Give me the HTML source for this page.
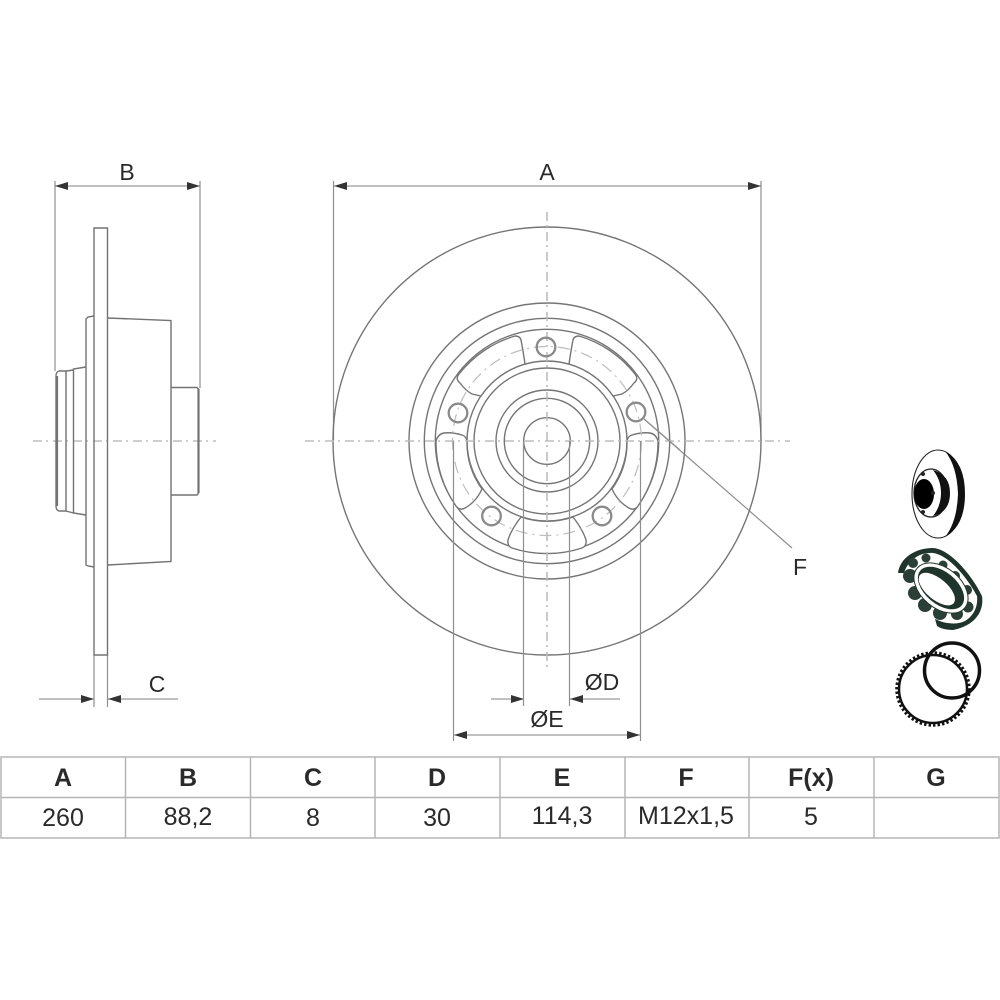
<!DOCTYPE html>
<html><head><meta charset="utf-8"><style>
html,body{margin:0;padding:0;background:#fff}
svg{display:block}
text{font-family:"Liberation Sans",sans-serif;fill:#2a2a2a;text-anchor:middle}
.l{font-size:23px}
.h{font-size:25px;font-weight:bold}
.v{font-size:25px}
.art{filter:blur(.35px)}
</style></head><body>
<svg width="1000" height="1000" viewBox="0 0 1000 1000" xmlns="http://www.w3.org/2000/svg">
<rect width="1000" height="1000" fill="#fff"/>
<defs>
<marker id="ar" viewBox="0 0 13 8" refX="13" refY="4" markerWidth="13" markerHeight="8" markerUnits="userSpaceOnUse" orient="auto-start-reverse"><path d="M0 0L13 4L0 8Z" fill="#333"/></marker>
</defs>
<g class="art">
<!-- dim extension lines -->
<g fill="none" stroke="#8f8f8f" stroke-width="1.200">
<path d="M333.500 181V441M761 181V441"/>
<path d="M55 181V371M200 181V388"/>
<path d="M94 655V707M107.500 655V707"/>
<path d="M644 419L792 548"/>
</g>
<!-- dim arrows -->
<g fill="none" stroke="#808080" stroke-width="1.100">
<path d="M334 186H761" marker-start="url(#ar)" marker-end="url(#ar)"/>
<path d="M55 186H200" marker-start="url(#ar)" marker-end="url(#ar)"/>
<path d="M39 699H94" marker-end="url(#ar)"/>
<path d="M178 699H108" marker-end="url(#ar)"/>
<path d="M491 699H524" marker-end="url(#ar)"/>
<path d="M620 699H570" marker-end="url(#ar)"/>
<path d="M454 735H640" marker-start="url(#ar)" marker-end="url(#ar)"/>
</g>
<!-- front view -->
<g fill="none" stroke="#757575" stroke-width="1.400">
<circle cx="547" cy="441" r="214"/>
<circle cx="547" cy="441" r="138"/>
<circle cx="547" cy="441" r="122.700"/>
<circle cx="547" cy="441" r="111.700"/>
<circle cx="547" cy="441" r="80"/>
<circle cx="547" cy="441" r="73"/>
<circle cx="547" cy="441" r="51"/>
<circle cx="547" cy="441" r="42.700"/>
<circle cx="547" cy="441" r="23.300"/>
<!-- pockets -->
<path d="M573 340Q574 336 579 336A111 111 0 0 1 635 374Q639 379 634 383Q628 391 622 394L613 396A80 80 0 0 0 569 364Q571 350 573 340Z" fill="#fff"/>
<path d="M573 340Q574 336 579 336A111 111 0 0 1 635 374Q639 379 634 383Q628 391 622 394L613 396A80 80 0 0 0 569 364Q571 350 573 340Z" fill="#fff" transform="matrix(-1 0 0 1 1094 0)"/>
<path d="M627 441Q628 436 632 435Q642 432 650 433Q656 434 658 441A111 111 0 0 1 638 506Q634 511 629 508Q618 502 612 489A80 80 0 0 0 627 441Z" fill="#fff"/>
<path d="M627 441Q628 436 632 435Q642 432 650 433Q656 434 658 441A111 111 0 0 1 638 506Q634 511 629 508Q618 502 612 489A80 80 0 0 0 627 441Z" fill="#fff" transform="matrix(-1 0 0 1 1094 0)"/>
<path d="M521 517A80 80 0 0 0 573 517Q583 530 586 540Q587 546 582 548A112 112 0 0 1 512 548Q507 546 508 540Q511 530 521 517Z" fill="#fff"/>
</g>
<!-- centre lines -->
<g fill="none" stroke="#bdbdbd" stroke-width="1.200" stroke-dasharray="12 5 2 5">
<circle cx="547" cy="441" r="94.500"/>
</g>
<g fill="none" stroke="#bdbdbd" stroke-width="1.600" stroke-dasharray="9 4 2 5">
<path d="M305 441H790"/><path d="M33 441H216"/><path d="M547 212V668"/>
</g>
<g fill="none" stroke="#8f8f8f" stroke-width="1.200">
<path d="M453.500 441V741M640.500 441V741"/>
<path d="M523.500 441V706M569.500 441V706"/>
<path d="M644 419L680 450"/>
</g>
<!-- bolt holes -->
<g fill="none" stroke="#8a8a8a" stroke-width="2.300">
<circle cx="546" cy="347" r="9.300"/>
<circle cx="636" cy="412" r="9.300"/>
<circle cx="458" cy="413" r="9.300"/>
<circle cx="491.500" cy="516" r="9.300"/>
<circle cx="602" cy="516" r="9.300"/>
</g>
<!-- side view -->
<g fill="none" stroke="#737373" stroke-width="1.400">
<path d="M94 228H107.500V655H94Z"/>
<path d="M107.500 318L171 320.500V561.500L107.500 565"/>
<path d="M94 316L88 317L86 319V565L88 566L94 567"/>
<path d="M86 367L73.500 369V513L86 515"/>
<path d="M73.500 370L66 371V511L73.500 513"/>
<path d="M66 371H59Q56 372 56 376V506Q56 510 59 511H66"/>
<path d="M171 387.500H197L198.500 389V493L197 495H171"/>
<path d="M57 376V506M198.500 389V493" stroke-width="2.200"/>
</g>
</g>
<!-- labels -->
<text class="l" x="127" y="180">B</text>
<text class="l" x="547" y="180">A</text>
<text class="l" x="157" y="692">C</text>
<text class="l" x="800" y="575">F</text>
<text class="l" x="602" y="690">ØD</text>
<text class="l" x="547" y="727">ØE</text>
<!-- table -->
<g fill="none" stroke="#b5b5b5" stroke-width="1.500">
<rect x="1" y="757" width="998" height="81"/>
<path d="M1 797.500H999"/>
<path d="M125.500 757V838M250.500 757V838M375 757V838M500 757V838M625 757V838M749 757V838M874 757V838"/>
</g>
<text class="h" x="63" y="786">A</text>
<text class="h" x="188" y="786">B</text>
<text class="h" x="313" y="786">C</text>
<text class="h" x="437" y="786">D</text>
<text class="h" x="562" y="786">E</text>
<text class="h" x="686" y="786">F</text>
<text class="h" x="811" y="786">F(x)</text>
<text class="h" x="936" y="786">G</text>
<text class="v" x="63" y="826">260</text>
<text class="v" x="188" y="825">88,2</text>
<text class="v" x="313" y="826">8</text>
<text class="v" x="437" y="826">30</text>
<text class="v" x="562" y="824">114,3</text>
<text class="v" x="686" y="824">M12x1,5</text>
<text class="v" x="811" y="825">5</text>
<g class="art">
<!-- icon: disc -->
<ellipse cx="938" cy="494" rx="26" ry="44" fill="#fff" stroke="#222" stroke-width="1.100"/>
<path d="M945 451Q965 462 965 494Q965 526 945 537Q957 522 958 494Q957 466 945 451Z" fill="#111"/>
<ellipse cx="931" cy="493" rx="17" ry="24" fill="#fff" stroke="#222" stroke-width="1.300"/>
<path d="M933 470Q950 475 950 493Q950 512 933 516Q941 506 941 493Q941 480 933 470Z" fill="#111"/>
<ellipse cx="924" cy="494" rx="10" ry="15" fill="#000"/>
<circle cx="923" cy="474" r="2" fill="#222"/><circle cx="923" cy="512" r="2" fill="#222"/><circle cx="933" cy="493" r="2" fill="#222"/>
<!-- icon: bearing -->
<path d="M898 573C900 558 915 548 933 548C950 549 972 575 982 596C984 610 977 625 953 630C945 630 940 628 937 626L935 619C945 624 957 625 965 621C975 615 978 605 977 596C970 582 950 555 933 553C920 552 908 560 904 573Z" fill="#1f352c"/>
<g fill="#2b3f36">
<circle cx="910" cy="576" r="7"/><circle cx="915" cy="593" r="7"/><circle cx="925" cy="605" r="7"/><circle cx="940" cy="613" r="7"/><circle cx="957" cy="614" r="6"/><circle cx="968" cy="607" r="5.500"/><circle cx="967" cy="590" r="5"/><circle cx="955" cy="576" r="5"/><circle cx="943" cy="565" r="4.500"/><circle cx="926" cy="558" r="4.500"/><circle cx="913" cy="563" r="5"/>
</g>
<g transform="rotate(40 941 588)">
<ellipse cx="941" cy="588" rx="31" ry="20" fill="#fff" stroke="#1f352c" stroke-width="1"/>
<ellipse cx="941" cy="588" rx="27" ry="16" fill="#1f352c"/>
<ellipse cx="938.500" cy="591.500" rx="22" ry="10.500" fill="#fff"/>
</g>
<!-- icon: ring + o-ring -->
<g fill="none" stroke="#111">
<circle cx="933" cy="689" r="34" stroke-width="2.500"/>
<circle cx="933" cy="689" r="36" stroke-width="3.500" stroke-dasharray="2.400 2.100"/>
<circle cx="952" cy="670.500" r="27.500" stroke-width="3.500"/>
</g>
</g>
</svg>
</body></html>
